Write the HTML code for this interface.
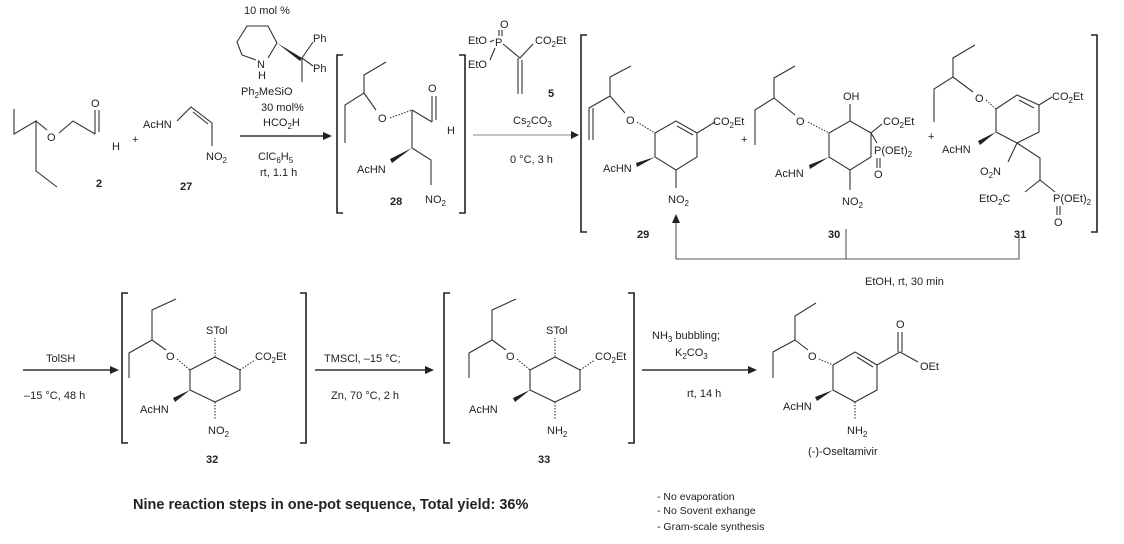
<!DOCTYPE html>
<html><head><meta charset="utf-8"><style>
body{margin:0;background:#fff}
svg{display:block}
text{font-family:"Liberation Sans",Arial,sans-serif;font-size:11px;fill:#222}
.b{font-weight:bold}
line,polyline,path,polygon{stroke:#333;stroke-width:1.1;fill:none}
.br{stroke:#222;stroke-width:1.6}
.ah{fill:#222;stroke:none}
</style></head><body>
<svg width="1124" height="544" viewBox="0 0 1124 544" xmlns="http://www.w3.org/2000/svg">
<!-- compound 2 -->
<polyline points="14,109 14,134 36,121 36,171 57,187"/>
<line x1="36" y1="121" x2="47" y2="130"/>
<text x="47" y="141">O</text>
<polyline points="59,133 73,121 95,134"/>
<line x1="95" y1="134" x2="95" y2="110"/><line x1="99" y1="132" x2="99" y2="110"/>
<text x="91" y="107">O</text><text x="112" y="150">H</text>
<text x="132" y="143">+</text>
<text x="96" y="187" class="b">2</text>
<!-- 27 -->
<text x="143" y="128">AcHN</text>
<polyline points="177,121 191,107 212,123 212,146"/>
<line x1="193" y1="112" x2="208" y2="124"/>
<text x="206" y="160">NO<tspan font-size="8" dy="3">2</tspan></text>
<text x="180" y="190" class="b">27</text>
<!-- arrow 1 -->
<line x1="240" y1="136" x2="325" y2="136" style="stroke-width:1.4"/>
<polygon class="ah" points="332,136 323,132 323,140"/>
<text x="244" y="14">10 mol %</text>
<polygon points="238,48 244,27 268,25 278,43 263,57 244,55" style="stroke:none"/>
<polyline points="242,55 237,42 247,26 268,26 277,43"/>
<line x1="242" y1="55" x2="256" y2="60"/><line x1="277" y1="43" x2="268" y2="58"/>
<text x="257" y="68">N</text><text x="258" y="79">H</text>
<polygon class="ah" points="277,43 302,58 300,61"/>
<line x1="302" y1="58" x2="313" y2="42"/><line x1="302" y1="58" x2="313" y2="66"/><line x1="302" y1="58" x2="302" y2="82"/>
<text x="313" y="42">Ph</text><text x="313" y="72">Ph</text>
<text x="241" y="95">Ph<tspan font-size="8" dy="3">2</tspan><tspan dy="-3">MeSiO</tspan></text>
<text x="261" y="111">30 mol%</text>
<text x="263" y="126">HCO<tspan font-size="8" dy="3">2</tspan><tspan dy="-3">H</tspan></text>
<text x="258" y="160">ClC<tspan font-size="8" dy="3">6</tspan><tspan dy="-3">H</tspan><tspan font-size="8" dy="3">5</tspan></text>
<text x="260" y="176">rt, 1.1 h</text>
<!-- bracket 28 -->
<polyline class="br" points="343,55 337,55 337,213 343,213"/>
<polyline class="br" points="459,55 465,55 465,213 459,213"/>
<polyline points="386,62 364,75 364,93 345,105 345,143"/>
<line x1="364" y1="93" x2="376" y2="110"/>
<text x="378" y="122">O</text>
<line x1="390" y1="118" x2="412" y2="110" style="stroke-dasharray:1.5 1.5"/>
<polyline points="412,110 432,122"/>
<line x1="432" y1="122" x2="432" y2="96"/><line x1="436" y1="120" x2="436" y2="96"/>
<text x="428" y="92">O</text><text x="447" y="134">H</text>
<line x1="412" y1="110" x2="412" y2="148"/>
<polygon class="ah" points="412,148 392,163 390,159"/>
<text x="357" y="173">AcHN</text>
<polyline points="412,148 431,160 431,185"/>
<text x="425" y="203">NO<tspan font-size="8" dy="3">2</tspan></text>
<text x="390" y="205" class="b">28</text>
<!-- reagent 5 -->
<text x="468" y="44">EtO</text><text x="468" y="68">EtO</text>
<text x="495" y="46">P</text><text x="500" y="28">O</text>
<line x1="499" y1="36" x2="499" y2="30"/><line x1="502" y1="36" x2="502" y2="30"/>
<line x1="490" y1="42" x2="494" y2="40"/><line x1="490" y1="60" x2="495" y2="48"/>
<polyline points="503,44 520,58 533,44"/>
<text x="535" y="44">CO<tspan font-size="8" dy="3">2</tspan><tspan dy="-3">Et</tspan></text>
<line x1="518" y1="58" x2="518" y2="94"/><line x1="522" y1="60" x2="522" y2="94"/>
<text x="548" y="97" class="b">5</text>
<text x="513" y="124">Cs<tspan font-size="8" dy="3">2</tspan><tspan dy="-3">CO</tspan><tspan font-size="8" dy="3">3</tspan></text>
<line x1="473" y1="135" x2="572" y2="135" style="stroke:#888"/>
<polygon class="ah" points="579,135 571,131 571,139"/>
<text x="510" y="163">0 °C, 3 h</text>
<!-- bracket 29-31 -->
<polyline class="br" points="587,35 581,35 581,232 587,232"/>
<polyline class="br" points="1091,35 1097,35 1097,232 1091,232"/>
<!-- 29 -->
<polyline points="631,66 610,77 610,96 589,108 589,140"/>
<line x1="593" y1="108" x2="593" y2="140"/>
<line x1="610" y1="96" x2="625" y2="113"/>
<text x="626" y="124">O</text>
<line x1="637" y1="122" x2="655" y2="133" style="stroke-dasharray:1.5 1.5"/>
<polygon points="655,133 676,121 697,133 697,157 676,170 655,157 655,133"/>
<line x1="677" y1="126" x2="693" y2="135"/>
<line x1="697" y1="133" x2="715" y2="122"/>
<text x="713" y="125">CO<tspan font-size="8" dy="3">2</tspan><tspan dy="-3">Et</tspan></text>
<polygon class="ah" points="655,157 637,167 636,163"/>
<text x="603" y="172">AcHN</text>
<line x1="676" y1="170" x2="676" y2="188"/>
<text x="668" y="203">NO<tspan font-size="8" dy="3">2</tspan></text>
<text x="637" y="238" class="b">29</text>
<text x="741" y="143">+</text>
<!-- 30 -->
<polyline points="795,66 774,78 774,98 755,110 755,145"/>
<line x1="774" y1="98" x2="795" y2="115"/>
<text x="796" y="125">O</text>
<line x1="808" y1="122" x2="829" y2="133" style="stroke-dasharray:1.5 1.5"/>
<polygon points="829,133 850,121 871,133 871,157 850,170 829,157 829,133"/>
<line x1="850" y1="121" x2="850" y2="104"/><text x="843" y="100">OH</text>
<line x1="871" y1="133" x2="882" y2="124"/>
<text x="883" y="125">CO<tspan font-size="8" dy="3">2</tspan><tspan dy="-3">Et</tspan></text>
<line x1="871" y1="133" x2="877" y2="143"/>
<text x="874" y="154">P(OEt)<tspan font-size="8" dy="3">2</tspan></text>
<line x1="877" y1="158" x2="877" y2="168"/><line x1="880" y1="158" x2="880" y2="168"/>
<text x="874" y="178">O</text>
<polygon class="ah" points="829,157 810,169 809,165"/>
<text x="775" y="177">AcHN</text>
<line x1="850" y1="170" x2="850" y2="190"/>
<text x="842" y="205">NO<tspan font-size="8" dy="3">2</tspan></text>
<text x="828" y="238" class="b">30</text>
<text x="928" y="140">+</text>
<!-- 31 -->
<polyline points="975,45 953,58 953,77 934,89 934,122"/>
<line x1="953" y1="77" x2="973" y2="92"/>
<text x="975" y="102">O</text>
<line x1="986" y1="100" x2="996" y2="109" style="stroke-dasharray:1.5 1.5"/>
<polygon points="996,109 1017,95 1039,105 1039,132 1017,143 996,132 996,109"/>
<line x1="1019" y1="100" x2="1034" y2="108"/>
<line x1="1039" y1="105" x2="1052" y2="97"/>
<text x="1052" y="100">CO<tspan font-size="8" dy="3">2</tspan><tspan dy="-3">Et</tspan></text>
<polygon class="ah" points="996,132 980,145 978,141"/>
<text x="942" y="153">AcHN</text>
<line x1="1017" y1="143" x2="1008" y2="162"/>
<text x="980" y="175">O<tspan font-size="8" dy="3">2</tspan><tspan dy="-3">N</tspan></text>
<polyline points="1017,143 1040,158 1040,180"/>
<line x1="1040" y1="180" x2="1025" y2="192"/><line x1="1040" y1="180" x2="1055" y2="192"/>
<text x="979" y="202">EtO<tspan font-size="8" dy="3">2</tspan><tspan dy="-3">C</tspan></text>
<text x="1053" y="202">P(OEt)<tspan font-size="8" dy="3">2</tspan></text>
<line x1="1057" y1="206" x2="1057" y2="215"/><line x1="1060" y1="206" x2="1060" y2="215"/>
<text x="1054" y="226">O</text>
<text x="1014" y="238" class="b">31</text>
<!-- loop -->
<polyline points="1019,234 1019,259 676,259 676,222" style="stroke:#555"/>
<line x1="846" y1="229" x2="846" y2="259" style="stroke:#555"/>
<polygon class="ah" points="676,214 672,223 680,223"/>
<text x="865" y="285">EtOH, rt, 30 min</text>

<!-- bottom arrow 1 -->
<line x1="23" y1="370" x2="112" y2="370" style="stroke-width:1.6"/>
<polygon class="ah" points="119,370 110,366 110,374"/>
<text x="46" y="362">TolSH</text>
<text x="24" y="399">–15 °C, 48 h</text>
<!-- 32 -->
<polyline class="br" points="128,293 122,293 122,443 128,443"/>
<polyline class="br" points="300,293 306,293 306,443 300,443"/>
<polyline points="176,299 152,310 152,340 129,353 129,378"/>
<line x1="152" y1="340" x2="166" y2="350"/>
<text x="166" y="360">O</text>
<line x1="177" y1="359" x2="190" y2="370" style="stroke-dasharray:1.5 1.5"/>
<polygon points="190,370 215,357 240,370 240,390 215,402 190,390 190,370"/>
<line x1="215" y1="357" x2="215" y2="338" style="stroke-dasharray:1.5 1.5"/>
<text x="206" y="334">STol</text>
<line x1="240" y1="370" x2="255" y2="360" style="stroke-dasharray:1.5 1.5"/>
<text x="255" y="360">CO<tspan font-size="8" dy="3">2</tspan><tspan dy="-3">Et</tspan></text>
<polygon class="ah" points="190,390 175,402 173,398"/>
<text x="140" y="413">AcHN</text>
<line x1="215" y1="402" x2="215" y2="420" style="stroke-dasharray:1.5 1.5"/>
<text x="208" y="434">NO<tspan font-size="8" dy="3">2</tspan></text>
<text x="206" y="463" class="b">32</text>
<!-- arrow 2 -->
<line x1="315" y1="370" x2="427" y2="370" style="stroke-width:1.6"/>
<polygon class="ah" points="434,370 425,366 425,374"/>
<text x="324" y="362">TMSCl, –15 °C;</text>
<text x="331" y="399">Zn, 70 °C, 2 h</text>
<!-- 33 -->
<polyline class="br" points="450,293 444,293 444,443 450,443"/>
<polyline class="br" points="628,293 634,293 634,443 628,443"/>
<polyline points="516,299 492,310 492,340 469,353 469,378"/>
<line x1="492" y1="340" x2="506" y2="350"/>
<text x="506" y="360">O</text>
<line x1="517" y1="359" x2="530" y2="370" style="stroke-dasharray:1.5 1.5"/>
<polygon points="530,370 555,357 580,370 580,390 555,402 530,390 530,370"/>
<line x1="555" y1="357" x2="555" y2="338" style="stroke-dasharray:1.5 1.5"/>
<text x="546" y="334">STol</text>
<line x1="580" y1="370" x2="595" y2="360" style="stroke-dasharray:1.5 1.5"/>
<text x="595" y="360">CO<tspan font-size="8" dy="3">2</tspan><tspan dy="-3">Et</tspan></text>
<polygon class="ah" points="530,390 515,402 513,398"/>
<text x="469" y="413">AcHN</text>
<line x1="555" y1="402" x2="555" y2="420" style="stroke-dasharray:1.5 1.5"/>
<text x="547" y="434">NH<tspan font-size="8" dy="3">2</tspan></text>
<text x="538" y="463" class="b">33</text>
<!-- arrow 3 -->
<line x1="642" y1="370" x2="750" y2="370" style="stroke-width:1.6"/>
<polygon class="ah" points="757,370 748,366 748,374"/>
<text x="652" y="339">NH<tspan font-size="8" dy="3">3</tspan><tspan dy="-3"> bubbling;</tspan></text>
<text x="675" y="356">K<tspan font-size="8" dy="3">2</tspan><tspan dy="-3">CO</tspan><tspan font-size="8" dy="3">3</tspan></text>
<text x="687" y="397">rt, 14 h</text>
<!-- oseltamivir -->
<polyline points="816,303 795,316 795,340 773,352 773,378"/>
<line x1="795" y1="340" x2="808" y2="350"/>
<text x="808" y="360">O</text>
<line x1="819" y1="359" x2="833" y2="365" style="stroke-dasharray:1.5 1.5"/>
<polygon points="833,365 855,352 877,365 877,390 855,402 833,390 833,365"/>
<line x1="857" y1="357" x2="873" y2="367"/>
<line x1="877" y1="365" x2="900" y2="352"/>
<line x1="898" y1="352" x2="898" y2="332"/><line x1="902" y1="352" x2="902" y2="332"/>
<text x="896" y="328">O</text>
<line x1="900" y1="352" x2="918" y2="362"/>
<text x="920" y="370">OEt</text>
<polygon class="ah" points="833,390 817,401 815,397"/>
<text x="783" y="410">AcHN</text>
<line x1="855" y1="402" x2="855" y2="420" style="stroke-dasharray:1.5 1.5"/>
<text x="847" y="434">NH<tspan font-size="8" dy="3">2</tspan></text>
<text x="808" y="455">(-)-Oseltamivir</text>
<!-- footer -->
<text x="133" y="509" style="font-size:14.5px;font-weight:bold">Nine reaction steps in one-pot sequence, Total yield: 36%</text>
<text x="657" y="500" style="font-size:10.5px">- No evaporation</text>
<text x="657" y="514" style="font-size:10.5px">- No Sovent exhange</text>
<text x="657" y="530" style="font-size:10.5px">- Gram-scale synthesis</text>
</svg>
</body></html>
